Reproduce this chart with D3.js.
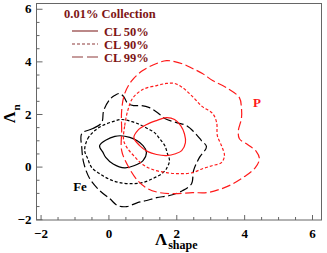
<!DOCTYPE html>
<html>
<head>
<meta charset="utf-8">
<script src="https://cdn.jsdelivr.net/npm/d3@7"></script>
<style>
  body { margin: 0; background: #fff; }
  svg { display: block; }
  text { font-family: "Liberation Serif", "Times New Roman", serif; font-weight: bold; }
</style>
</head>
<body>
<div id="chart"></div>
<script>
'use strict';

// contour levels (legend order)
const levels = ['CL 50%', 'CL 90%', 'CL 99%'];

// Fe contours, [shape, n]
const fe50 = [[-0.26, 0.80], [0.19, 1.15], [0.63, 1.11], [1.02, 0.80], [1.12, 0.54], [1.02, 0.23],
    [0.77, 0.04], [0.48, -0.05], [0.14, 0.10], [-0.08, 0.35], [-0.16, 0.54]];
const fe90 = [[-0.70, 0.61], [-0.61, 1.06], [-0.40, 1.37], [-0.17, 1.56], [0.13, 1.71], [0.39, 1.79],
    [0.69, 1.71], [0.92, 1.60], [1.16, 1.44], [1.36, 1.29], [1.51, 1.06], [1.66, 0.80], [1.74, 0.49],
    [1.80, 0.23], [1.71, -0.08], [1.57, -0.27], [1.30, -0.46], [1.01, -0.61], [0.71, -0.65], [0.33, -0.61],
    [0.04, -0.49], [-0.26, -0.27], [-0.49, -0.04], [-0.61, 0.30]];
const fe99 = [[-0.785, 1.255], [-0.46, 1.445], [-0.20, 1.67], [-0.14, 2.13], [0.04, 2.55], [0.18, 2.70],
    [0.33, 2.78], [0.45, 2.66], [0.57, 2.40], [0.74, 2.32], [0.98, 2.32], [1.21, 2.24], [1.45, 2.05],
    [1.66, 1.83], [2.01, 1.67], [2.30, 1.56], [2.54, 1.29], [2.74, 0.99], [2.89, 0.76], [2.68, 0.34],
    [2.51, -0.15], [2.45, -0.65], [2.19, -0.91], [1.80, -1.10], [1.42, -1.18], [1.13, -1.29], [0.86, -1.37],
    [0.54, -1.52], [0.27, -1.48], [0.04, -1.22], [-0.26, -0.91], [-0.55, -0.46], [-0.73, 0.15], [-0.785, 0.72]];

// P contours
const p50 = [[0.75, 1.10], [0.86, 1.37], [1.13, 1.60], [1.42, 1.75], [1.71, 1.86], [1.95, 1.79], [2.13, 1.56],
    [2.24, 1.25], [2.27, 0.91], [2.16, 0.61], [1.98, 0.49], [1.71, 0.42], [1.42, 0.46], [1.16, 0.57], [0.92, 0.80]];
const p90 = [[0.45, 0.99], [0.48, 1.56], [0.57, 2.13], [0.71, 2.59], [1.01, 2.93], [1.42, 3.08], [1.71, 3.16],
    [1.95, 3.16], [2.19, 3.00], [2.48, 2.66], [2.77, 2.28], [3.07, 2.02], [3.19, 1.67], [3.21, 1.18], [3.33, 0.80],
    [3.42, 0.42], [3.33, 0.15], [3.07, 0.04], [2.77, -0.08], [2.48, -0.23], [2.10, -0.27], [1.71, -0.23],
    [1.30, -0.11], [1.01, 0.08], [0.77, 0.38], [0.57, 0.68]];
const p99 = [[0.39, 0.61], [0.39, 1.37], [0.39, 2.13], [0.48, 2.78], [0.69, 3.27], [1.01, 3.65], [1.42, 3.92],
    [1.71, 4.03], [1.95, 3.99], [2.24, 3.88], [2.48, 3.73], [2.77, 3.54], [3.07, 3.27], [3.48, 3.00], [3.86, 2.62],
    [3.92, 2.24], [3.92, 1.83], [3.83, 1.37], [3.86, 1.06], [4.10, 0.84], [4.36, 0.57], [4.45, 0.30], [4.33, -0.04],
    [4.01, -0.38], [3.63, -0.68], [3.27, -0.87], [2.89, -0.99], [2.48, -0.99], [1.95, -1.03], [1.51, -0.99],
    [1.16, -0.84], [0.86, -0.53], [0.57, 0.04]];

// tick labels
const majorTicks = [-2, 0, 2, 4, 6];

const width = 327;
const height = 253;
const frame = { left: 36.5, right: 321.5, top: 3.5, bottom: 220 };

const dashes = { 'CL 50%': null, 'CL 90%': '3,2', 'CL 99%': '9,3.5' };

function main() {
    let svg = d3.select('#chart')
        .append('svg')
        .attr('width', width)
        .attr('height', height);

    let x = d3.scaleLinear().domain([-2.12, 6.28]).range([frame.left, frame.right]);
    let y = d3.scaleLinear().domain([-2.03, 6.2]).range([frame.bottom, frame.top]);

    let minorTicks = d3.range(-2, 6.01, 0.5).filter(v => !majorTicks.includes(v));

    // contours
    let line = d3.line()
        .x(d => x(d[0]))
        .y(d => y(d[1]))
        .curve(d3.curveCatmullRomClosed.alpha(0.5));

    let contours = [
        { pts: fe99, level: 'CL 99%', color: '#000' },
        { pts: fe90, level: 'CL 90%', color: '#000' },
        { pts: fe50, level: 'CL 50%', color: '#000' },
        { pts: p99, level: 'CL 99%', color: '#ff1a1a' },
        { pts: p90, level: 'CL 90%', color: '#ff1a1a' },
        { pts: p50, level: 'CL 50%', color: '#ff1a1a' }
    ];

    svg.append('g')
        .selectAll('path')
        .data(contours)
        .enter()
        .append('path')
        .attr('d', d => line(d.pts))
        .attr('fill', 'none')
        .attr('stroke', d => d.color)
        .attr('stroke-width', 1.2)
        .attr('stroke-dasharray', d => dashes[d.level]);

    // axes (ticks pointing inward)
    let xMajor = d3.axisBottom(x).tickValues(majorTicks).tickSize(-5).tickSizeOuter(0).tickPadding(9);
    let xMinor = d3.axisBottom(x).tickValues(minorTicks).tickSize(-3).tickSizeOuter(0).tickFormat('');
    let yMajor = d3.axisLeft(y).tickValues(majorTicks).tickSize(-6).tickSizeOuter(0).tickPadding(5);
    let yMinor = d3.axisLeft(y).tickValues(minorTicks).tickSize(-3).tickSizeOuter(0).tickFormat('');

    [[xMajor, 'bottom'], [xMinor, 'bottom'], [yMajor, 'left'], [yMinor, 'left']].forEach(([ax, side]) => {
        let g = svg.append('g')
            .attr('transform', side === 'bottom' ? `translate(0,${frame.bottom})` : `translate(${frame.left},0)`)
            .call(ax);
        g.select('.domain').remove();
        g.selectAll('line').attr('stroke', '#666');
        g.selectAll('text')
            .attr('fill', '#000')
            .style('font-size', '13px')
            .style('font-family', '"Liberation Serif", serif')
            .style('font-weight', 'bold');
    });

    // frame
    svg.append('rect')
        .attr('x', frame.left)
        .attr('y', frame.top)
        .attr('width', frame.right - frame.left)
        .attr('height', frame.bottom - frame.top)
        .attr('fill', 'none')
        .attr('stroke', '#666')
        .attr('stroke-width', 1);

    // axis titles
    let xTitle = svg.append('text')
        .attr('x', 155)
        .attr('y', 245)
        .style('font-size', '17px');
    xTitle.append('tspan').text('Λ');
    xTitle.append('tspan').attr('dx', 1).attr('dy', 4).style('font-size', '12px').text('shape');

    let yTitle = svg.append('text')
        .attr('transform', 'translate(15,123) rotate(-90)')
        .style('font-size', '16px');
    yTitle.append('tspan').text('Λ');
    yTitle.append('tspan').attr('dx', 1).attr('dy', 5).style('font-size', '11px').text('n');

    // species labels
    svg.append('text')
        .attr('x', x(4.26))
        .attr('y', y(2.26))
        .attr('fill', '#ff1a1a')
        .style('font-size', '13px')
        .text('P');
    svg.append('text')
        .attr('x', x(-1.04))
        .attr('y', y(-0.93))
        .attr('fill', '#000')
        .style('font-size', '13px')
        .text('Fe');

    // legend
    const legendColor = '#7d1414';
    let legend = svg.append('g').attr('transform', 'translate(64,0)');
    legend.append('text')
        .attr('x', 0)
        .attr('y', 18)
        .attr('fill', legendColor)
        .style('font-size', '12.5px')
        .text('0.01% Collection');

    let rows = legend.selectAll('.row')
        .data(levels)
        .enter()
        .append('g')
        .classed('row', true)
        .attr('transform', (d, i) => `translate(0,${31 + i * 13})`);
    rows.append('line')
        .attr('x1', 8)
        .attr('x2', 34)
        .attr('stroke', '#8e3a3a')
        .attr('stroke-width', 1.2)
        .attr('stroke-dasharray', d => d === 'CL 99%' ? '11,4' : dashes[d]);
    rows.append('text')
        .attr('x', 40)
        .attr('y', 4.5)
        .attr('fill', legendColor)
        .style('font-size', '12.5px')
        .text(d => d);
}
main();
</script>
</body>
</html>
